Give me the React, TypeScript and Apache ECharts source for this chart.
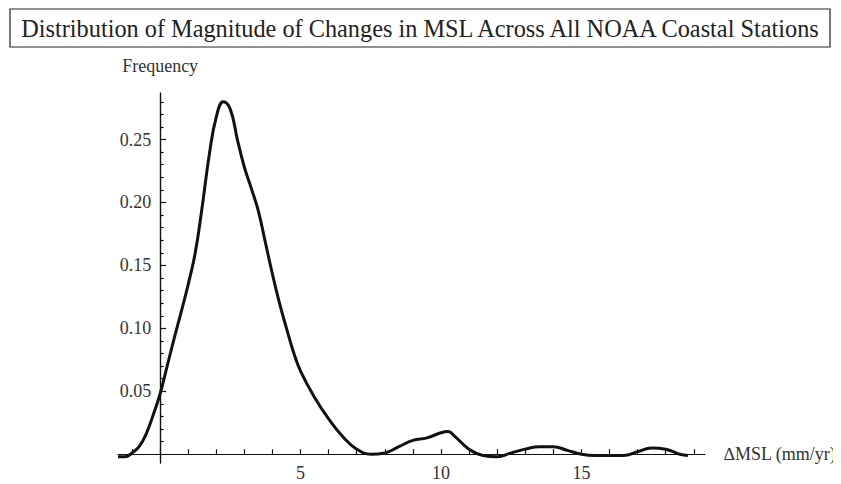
import React, { useEffect, useRef } from "react";
import * as echarts from "echarts";

const titleText = "Distribution of Magnitude of Changes in MSL Across All NOAA Coastal Stations";
const xName = "\u2206MSL (mm/yr)";
const yName = "Frequency";

const xValues = [
  -1.5, -1.25, -1.0, -0.75, -0.5, -0.25, 0, 0.25, 0.5, 0.75, 1.0, 1.25, 1.5, 1.75, 2.0, 2.25, 2.5, 2.75,
  3.0, 3.25, 3.5, 3.75, 4.0, 4.25, 4.5, 4.75, 5.0, 5.5, 6.0, 6.5, 7.0, 7.5, 8.0, 8.5, 9.0, 9.5, 10.0,
  10.25, 10.5, 11.0, 11.5, 12.0, 12.5, 13.0, 13.5, 14.0, 14.5, 15.0, 15.5, 16.0, 16.5, 17.0, 17.5, 18.0,
  18.5, 18.8,
];
const densityValues = [
  -0.002, -0.002, 0.001, 0.006, 0.016, 0.031, 0.048, 0.07, 0.092, 0.113, 0.135, 0.16, 0.197, 0.238, 0.268,
  0.28, 0.274, 0.25, 0.228, 0.211, 0.193, 0.168, 0.143, 0.12, 0.1, 0.081, 0.066, 0.045, 0.028, 0.014,
  0.004, 0.0, 0.001, 0.006, 0.011, 0.013, 0.017, 0.018, 0.014, 0.004, -0.001, -0.002, 0.001, 0.004, 0.006,
  0.006, 0.003, 0.0, -0.001, -0.001, -0.001, 0.002, 0.005, 0.004, 0.0, -0.001,
];
const xTickValues = [-1, 0, 1, 2, 3, 4, 5, 6, 7, 8, 9, 10, 11, 12, 13, 14, 15, 16, 17, 18, 19];
const xLabelValues = [5, 10, 15];
const yMajorValues = [0.05, 0.1, 0.15, 0.2, 0.25];
const yMinorValues = [
  0.01, 0.02, 0.03, 0.04, 0.06, 0.07, 0.08, 0.09, 0.11, 0.12, 0.13, 0.14, 0.16, 0.17, 0.18, 0.19, 0.21,
  0.22, 0.23, 0.24, 0.26, 0.27, 0.28,
];

const FONT = "Liberation Serif";
const GRID_LEFT = 110;
const GRID_TOP = 85;
const GRID_W = 587;
const GRID_H = 370;

export default function App() {
  const ref = useRef<HTMLDivElement>(null);
  useEffect(() => {
    if (!ref.current) return;
    const chart = echarts.init(ref.current, null, { renderer: "svg" });
    const axisLineStyle = { color: "#111", width: 1.2 };
    const labelStyle = { fontFamily: FONT, fontSize: 18, color: "#333" };
    chart.setOption({
      animation: false,
      backgroundColor: "#fff",
      graphic: [
        {
          type: "rect",
          shape: { x: 2, y: 1, width: 820, height: 38 },
          style: { fill: "#fff", stroke: "#222", lineWidth: 1.2 },
        },
        {
          type: "text",
          x: 412,
          y: 20,
          style: {
            text: titleText,
            fontFamily: FONT,
            fontSize: 24.3,
            fill: "#222",
            textAlign: "center",
            textVerticalAlign: "middle",
          },
        },
      ],
      grid: {
        left: GRID_LEFT,
        top: GRID_TOP,
        width: GRID_W,
        height: GRID_H,
        containLabel: false,
        outerBoundsMode: "none",
      },
      xAxis: {
        type: "value",
        min: -1.5,
        max: 19.4,
        position: "bottom",
        name: xName,
        nameLocation: "end",
        nameGap: 19,
        nameTextStyle: labelStyle,
        axisLine: { show: true, onZero: false, lineStyle: axisLineStyle },
        axisTick: { show: true, inside: true, length: 5, customValues: xTickValues, lineStyle: axisLineStyle },
        axisLabel: { customValues: xLabelValues, ...labelStyle, margin: 10 },
        splitLine: { show: false },
      },
      yAxis: [
        {
          type: "value",
          min: -0.007,
          max: 0.287,
          position: "left",
          name: yName,
          nameLocation: "end",
          nameGap: 18,
          nameTextStyle: { ...labelStyle, align: "center" },
          axisLine: { show: true, onZero: false, lineStyle: axisLineStyle },
          axisTick: { show: true, inside: true, length: 6, customValues: yMajorValues, lineStyle: axisLineStyle },
          axisLabel: {
            customValues: yMajorValues,
            formatter: (v: number) => v.toFixed(2),
            ...labelStyle,
            margin: 9,
          },
          splitLine: { show: false },
        },
        {
          type: "value",
          min: -0.007,
          max: 0.287,
          position: "left",
          axisLine: { show: true, onZero: false, lineStyle: axisLineStyle },
          axisTick: { show: true, inside: true, length: 3.5, customValues: yMinorValues, lineStyle: axisLineStyle },
          axisLabel: { show: false },
          splitLine: { show: false },
        },
      ],
      series: [
        {
          type: "line",
          data: xValues.map((x, i) => [x, densityValues[i]]),
          smooth: 0.45,
          showSymbol: false,
          clip: false,
          lineStyle: { color: "#111", width: 3 },
        },
      ],
    });
    // Put each axis on the other's zero, using the library's own scales.
    const x0 = chart.convertToPixel({ xAxisIndex: 0 }, 0) as number;
    const y0 = chart.convertToPixel({ yAxisIndex: 0 }, 0) as number;
    const yOffset = GRID_LEFT - x0;
    const xOffset = y0 - (GRID_TOP + GRID_H);
    chart.setOption({
      xAxis: { offset: xOffset },
      yAxis: [{ offset: yOffset }, { offset: yOffset }],
    });
    return () => chart.dispose();
  }, []);
  return <div ref={ref} style={{ width: 833, height: 476 }} />;
}
